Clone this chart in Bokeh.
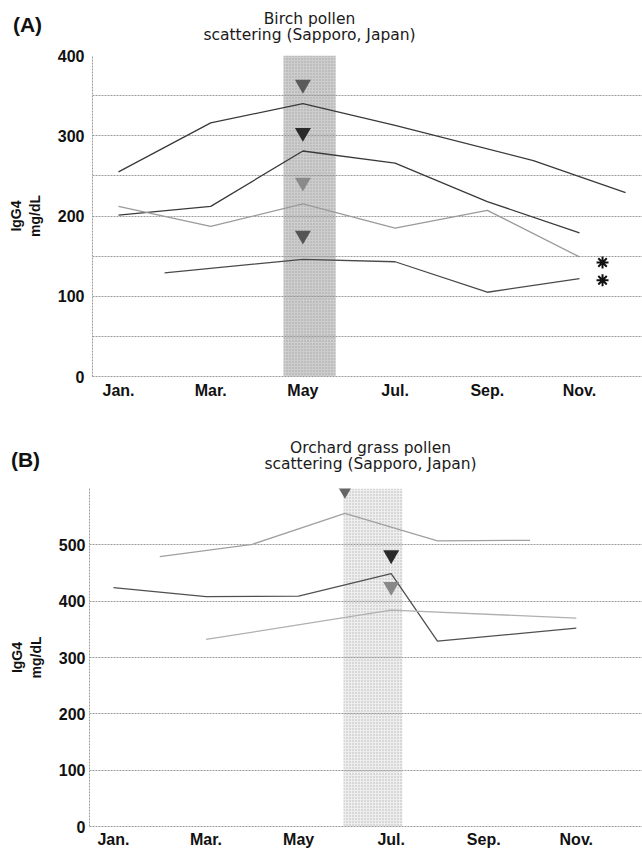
from bokeh.plotting import figure
from bokeh.models import Range1d, SingleIntervalTicker, FixedTicker
from bokeh.layouts import column
from bokeh.embed import file_html
from bokeh.resources import INLINE
from bokeh.core.properties import value

FONT = "Liberation Sans"
TFONT = "DejaVu Sans"

# ---------------- data ----------------
month_ticks = [1, 3, 5, 7, 9, 11]
month_labels = ["Jan.", "Mar.", "May", "Jul.", "Sep.", "Nov."]

# Panel A: Birch
a1_x = [1, 3, 5, 7, 10, 12]
a1_y = [255, 316, 340, 313, 269, 229]
a2_x = [1, 3, 5, 7, 9, 11]
a2_y = [201, 212, 281, 266, 218, 179]
a3_x = [1, 3, 5, 7, 9, 11]
a3_y = [212, 187, 215, 185, 207, 149]
a4_x = [2, 5, 7, 9, 11]
a4_y = [129, 146, 143, 105, 122]
a_tri_x = [5, 5, 5, 5]
a_tri_y = [364, 304, 242, 176]
a_star_x = [11.5, 11.5]
a_star_y = [142, 120]
a_band = [4.58, 5.71]

# Panel B: Orchard grass
b1_x = [2, 4, 6, 8, 10]
b1_y = [479, 501, 556, 507, 508]
b2_x = [1, 3, 5, 7, 8, 11]
b2_y = [424, 408, 409, 449, 329, 352]
b3_x = [3, 7, 11]
b3_y = [332, 384, 370]
b_tri_x = [6, 7, 7]
b_tri_y = [598, 482, 426]
b_band = [5.97, 7.24]

# header texts
a_panel = "(A)"
a_title = ["Birch pollen", "scattering (Sapporo, Japan)"]
b_panel = "(B)"
b_title = ["Orchard grass pollen", "scattering (Sapporo, Japan)"]
y_label = "IgG4\nmg/dL"

GRID = "#9a9a9a"
W = 642


def header(height, panel_xy, title_x, title_ys, panel_txt, titles):
    h = figure(width=W, height=height, x_range=Range1d(0, W), y_range=Range1d(0, height),
               output_backend="svg", toolbar_location=None, frame_align=False,
               min_border_left=0, min_border_right=0, min_border_top=0, min_border_bottom=0)
    h.axis.visible = False
    h.grid.visible = False
    h.outline_line_color = None
    h.text(x=[panel_xy[0]], y=[panel_xy[1]], text=[panel_txt], text_font=value(FONT),
           text_font_size="21px", text_font_style="bold", text_align="center",
           text_baseline="middle", text_color="#111111")
    h.text(x=[title_x, title_x], y=title_ys, text=titles, text_font=value(TFONT),
           text_font_size="15.5px", text_align="center", text_baseline="middle",
           text_color="#1a1a1a")
    return h


def base_fig(height, xr, mbl, mbt, mbb, ymax, grid_int):
    p = figure(width=W, height=height, x_range=Range1d(*xr), y_range=Range1d(0, ymax),
               output_backend="svg", toolbar_location=None, frame_align=False,
               min_border_left=mbl, min_border_right=0, min_border_top=mbt, min_border_bottom=mbb)
    p.outline_line_color = None
    p.xgrid.visible = False
    p.ygrid.ticker = SingleIntervalTicker(interval=grid_int)
    p.ygrid.grid_line_color = GRID
    p.ygrid.grid_line_dash = "2 1"
    p.ygrid.grid_line_width = 1
    for ax in (p.xaxis[0], p.yaxis[0]):
        ax.axis_line_color = GRID
        ax.axis_line_dash = "2 1"
        ax.major_tick_line_color = None
        ax.minor_tick_line_color = None
        ax.major_tick_in = 0
        ax.major_tick_out = 0
        ax.major_label_text_font = FONT
        ax.major_label_text_font_style = "bold"
        ax.major_label_text_font_size = "16px"
        ax.major_label_text_color = "#111111"
    p.xaxis.ticker = FixedTicker(ticks=month_ticks)
    p.xaxis.major_label_overrides = {t: l for t, l in zip(month_ticks, month_labels)}
    p.yaxis.major_label_standoff = 4
    p.yaxis.axis_label = y_label
    p.yaxis.axis_label_text_font = FONT
    p.yaxis.axis_label_text_font_style = "bold"
    p.yaxis.axis_label_text_font_size = "14px"
    p.yaxis.axis_label_text_color = "#111111"
    p.yaxis.axis_label_standoff = 12
    return p


# ---------------- Panel A ----------------
hA = header(45, (27, 21), 309, [27, 11], a_panel, a_title)
pA = base_fig(365, (0.436, 12.367), 92, 10, 34, 400, 50)
pA.yaxis.ticker = SingleIntervalTicker(interval=100)
pA.xaxis.major_label_standoff = 5
pA.quad(left=[a_band[0]], right=[a_band[1]], bottom=[0], top=[400],
        fill_color="#cdcdcd", line_color=None, hatch_pattern="dot", hatch_color="#a5a5a5",
        hatch_scale=3, level="image")
pA.line(a1_x, a1_y, line_color="#3a3a3a", line_width=1.3)
pA.line(a2_x, a2_y, line_color="#3a3a3a", line_width=1.3)
pA.line(a3_x, a3_y, line_color="#9a9a9a", line_width=1.3)
pA.line(a4_x, a4_y, line_color="#4a4a4a", line_width=1.3)
pA.scatter(a_tri_x, a_tri_y, marker="inverted_triangle", size=16,
           fill_color=["#5a5a5a", "#2a2a2a", "#8a8a8a", "#555555"], line_color=None)
pA.scatter(a_star_x, a_star_y, marker="asterisk", size=12, line_color="#111111", line_width=2)

# ---------------- Panel B ----------------
hB = header(68, (25, 19), 370, [31, 15], b_panel, b_title)
pB = base_fig(376, (0.482, 12.43), 89, 10, 28, 600, 100)
pB.yaxis.ticker = FixedTicker(ticks=[0, 100, 200, 300, 400, 500])
pB.xaxis.major_label_standoff = 4
pB.quad(left=[b_band[0]], right=[b_band[1]], bottom=[0], top=[600],
        fill_color="#eeeeee", line_color=None, hatch_pattern="dot", hatch_color="#b5b5b5",
        hatch_scale=3, level="image")
pB.line(b1_x, b1_y, line_color="#a0a0a0", line_width=1.3)
pB.line(b2_x, b2_y, line_color="#505050", line_width=1.3)
pB.line(b3_x, b3_y, line_color="#b0b0b0", line_width=1.3)
pB.scatter(b_tri_x, b_tri_y, marker="inverted_triangle", size=16,
           fill_color=["#666666", "#2a2a2a", "#888888"], line_color=None)

layout = column(hA, pA, hB, pB)
open("out.html", "w").write(file_html(layout, INLINE))
